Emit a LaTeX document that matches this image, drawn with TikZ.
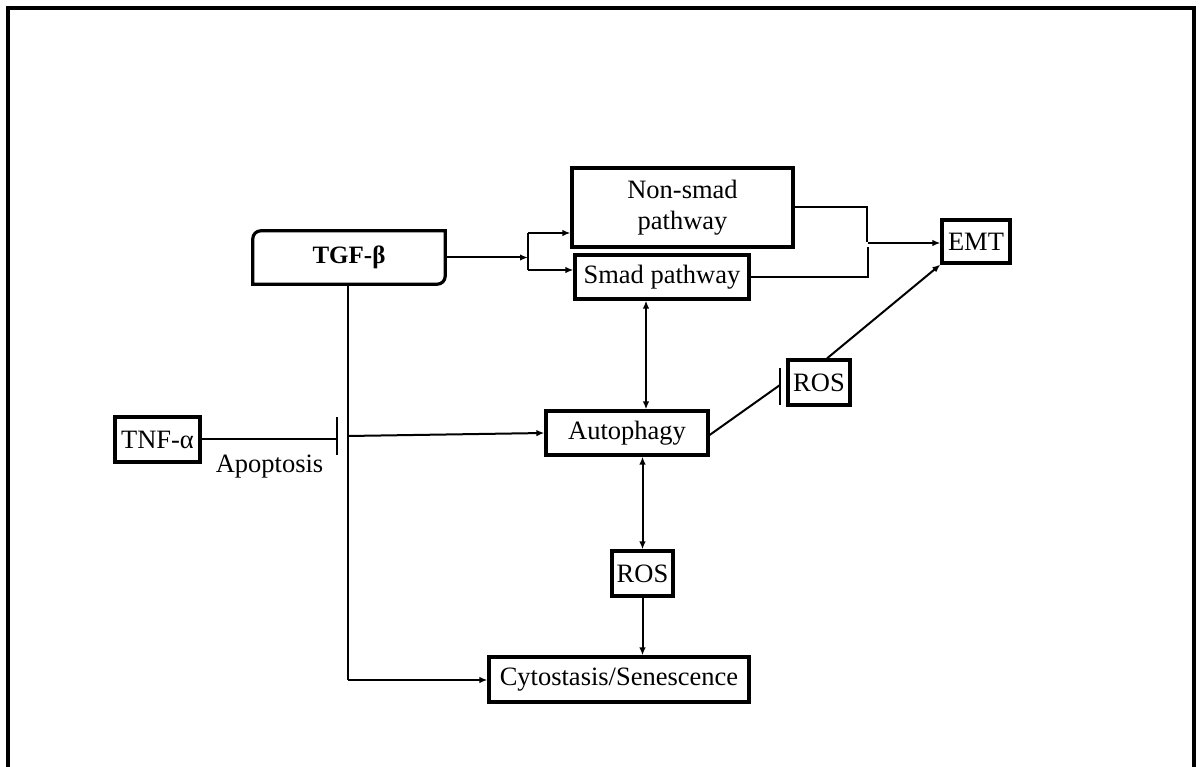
\documentclass[tikz,border=0pt]{standalone}
\usepackage{fontspec}
\setmainfont{Liberation Serif}
\usetikzlibrary{arrows.meta,calc}
\begin{document}
\begin{tikzpicture}[x=1pt,y=-1pt,
  lbl/.style={font=\fontsize{26.5}{31}\selectfont, inner sep=0pt},
  boxnode/.style={lbl, draw, line width=3.2pt, align=center},
  conn/.style={line width=2pt},
  arr/.style={conn, -{Latex[length=8pt,width=6.5pt]}},
  darr/.style={conn, {Latex[length=8pt,width=6.5pt]}-{Latex[length=8pt,width=6.5pt]}}
]
\useasboundingbox (0,0) rectangle (1200,767);
% outer frame (open at the bottom edge of the page)
\draw[line width=3.5pt] (8,775) -- (8,8) -- (1194,8) -- (1194,775);

% nodes
\node[lbl, minimum width=192pt, minimum height=53pt] (tgf) at (349,257.5)
  {\fontsize{25}{29}\selectfont\bfseries TGF-β};
\draw[line width=3.2pt] (tgf.south west) -- ([yshift=-8pt]tgf.north west)
  arc[start angle=180,end angle=90,radius=8pt] -- (tgf.north east)
  -- ([yshift=8pt]tgf.south east) arc[start angle=0,end angle=-90,radius=8pt] -- cycle;

\node[boxnode, minimum width=221pt, minimum height=79pt] (nonsmad) at (682.5,207.5) {Non-smad\\pathway};
\node[boxnode, minimum width=174pt, minimum height=44pt] (smad) at (662,277) {Smad pathway};
\node[boxnode, minimum width=68pt, minimum height=43pt] (emt) at (976,241.5) {EMT};
\node[boxnode, minimum width=162pt, minimum height=44pt] (auto) at (627,433) {Autophagy};
\node[boxnode, minimum width=62pt, minimum height=45pt] (rosr) at (819,382.5) {ROS};
\node[boxnode, minimum width=61pt, minimum height=45pt] (rosb) at (642.5,573.5) {ROS};
\node[boxnode, minimum width=260pt, minimum height=45pt] (cyto) at (619,679.5) {Cytostasis/Senescence};
\node[boxnode, minimum width=85pt, minimum height=45pt] (tnf) at (157.5,439.5) {TNF-α};
\node[lbl, anchor=base] (apop) at (269.5,472) {Apoptosis};

% TGF-beta to the two pathways
\coordinate (split) at (528,257.5);
\coordinate (splitT) at (528,233);
\coordinate (splitB) at (528,270);
\draw[arr] (tgf.east) -- (split);
\draw[conn] (splitT) -- (splitB);
\draw[arr] (splitT) -- (splitT -| nonsmad.west);
\draw[arr] (splitB) -- (splitB -| smad.west);

% both pathways converge on EMT
\coordinate (mT) at (867,242);
\coordinate (mB) at (868,247);
\coordinate (mA) at (868,243);
\draw[conn] (nonsmad.east) -- (mT |- nonsmad.east) -- (mT);
\draw[conn] (smad.east) -- (mB |- smad.east) -- (mB);
\draw[arr] (mA) -- (mA -| emt.west);

% autophagy links
\draw[darr] (smad.south -| 646,0) -- (auto.north -| 646,0);
\draw[darr] (rosb.north) -- (auto.south -| rosb.north);
\draw[arr] (rosb.south) -- (cyto.north -| rosb.south);

% autophagy inhibits ROS, ROS drives EMT
\coordinate (bar) at (780,385);
\draw[conn] ([yshift=-2pt]auto.east) -- (bar);
\draw[conn] (780,368) -- (780,405);
\draw[arr] ([xshift=8pt]rosr.north) -- (emt.south west);

% TGF-beta downstream trunk
\coordinate (trunk) at (348,680);
\draw[conn] (tgf.south -| 348,0) -- (trunk);
\draw[arr] (trunk) -- (cyto.west |- trunk);
\draw[arr] (348,436) -- (auto.west);

% TNF-alpha blocks apoptosis
\coordinate (tbar) at (337,439);
\draw[conn] (tnf.east |- tbar) -- (tbar);
\draw[conn] (337,417) -- (337,455);
\end{tikzpicture}
\end{document}
